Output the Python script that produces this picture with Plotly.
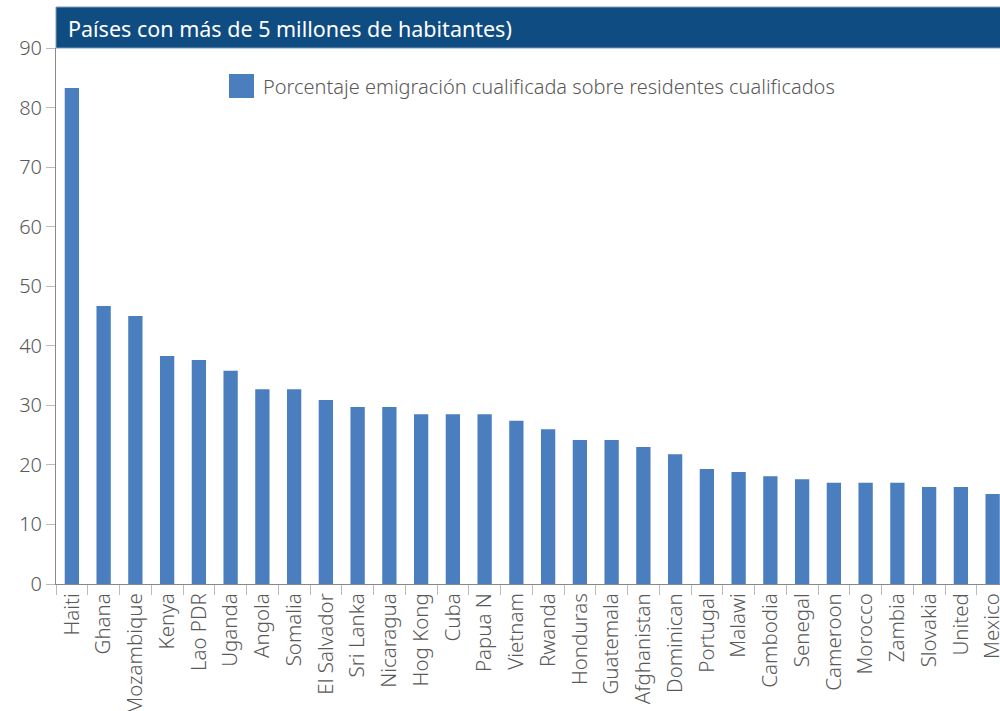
import plotly.graph_objects as go

countries = ["Haiti", "Ghana", "Mozambique", "Kenya", "Lao PDR", "Uganda", "Angola", "Somalia",
             "El Salvador", "Sri Lanka", "Nicaragua", "Hog Kong", "Cuba", "Papua N", "Vietnam",
             "Rwanda", "Honduras", "Guatemala", "Afghanistan", "Dominican", "Portugal", "Malawi",
             "Cambodia", "Senegal", "Cameroon", "Morocco", "Zambia", "Slovakia", "United", "Mexico"]
values = [83.3, 46.7, 45.0, 38.3, 37.6, 35.8, 32.7, 32.7, 30.9, 29.7, 29.7, 28.5, 28.5, 28.5, 27.4,
          26.0, 24.2, 24.2, 23.0, 21.8, 19.3, 18.8, 18.1, 17.6, 17.0, 17.0, 17.0, 16.3, 16.3, 15.1]
y_ticks = [0, 10, 20, 30, 40, 50, 60, 70, 80, 90]
series_name = "Porcentaje emigración cualificada sobre residentes cualificados"
subtitle = "Países con más de 5 millones de habitantes)"

FONT = "Noto Sans"
GRAY = "#595959"
BAR = "#4A7EBF"
W, H = 1000, 711
ML, MR, MT, MB = 56, 0, 48, 127
PW = W - ML - MR
PH = H - MT - MB

fig = go.Figure()
fig.add_trace(go.Bar(
    x=countries, y=values, name=series_name,
    marker=dict(color=BAR, line=dict(width=0)),
    width=0.45, showlegend=False,
))

def py(px):
    return 1 + (MT - px) / PH

def pxx(px):
    return (px - ML) / PW

fig.update_layout(
    width=W, height=H,
    margin=dict(l=ML, r=MR, t=MT, b=MB, autoexpand=False),
    paper_bgcolor="white", plot_bgcolor="white",
    font=dict(family=FONT, color=GRAY),
    showlegend=False,
    xaxis=dict(
        range=[-0.5, -0.5 + PW / 31.75], tickangle=-90, automargin=False,
        tickfont=dict(size=20.5, color=GRAY, weight=300),
        showline=True, linecolor="#888888", linewidth=1,
        ticks="outside", ticklen=10, tickcolor="#BBBBBB", tickson="boundaries",
        showgrid=False, zeroline=False,
    ),
    yaxis=dict(
        range=[0, 90], tickvals=y_ticks, automargin=False,
        tickfont=dict(size=20, color=GRAY, weight=300),
        showline=True, linecolor="#888888", linewidth=1,
        ticks="outside", ticklen=9, tickcolor="#BBBBBB",
        showgrid=False, zeroline=False,
    ),
    shapes=[
        dict(type="rect", xref="paper", yref="paper",
             x0=0, x1=1.01, y0=py(48), y1=py(7),
             fillcolor="#0F4C81", line=dict(width=1, color="#7F9DBD"), layer="above"),
        dict(type="rect", xref="paper", yref="paper",
             x0=pxx(229), x1=pxx(254), y0=py(98), y1=py(74),
             fillcolor=BAR, line=dict(width=0)),
    ],
    annotations=[
        dict(text=subtitle, xref="paper", yref="paper",
             x=pxx(66), y=py(28), xanchor="left", yanchor="middle",
             showarrow=False, font=dict(size=21.5, color="white", family=FONT)),
        dict(text=series_name, xref="paper", yref="paper",
             x=pxx(261), y=py(87), xanchor="left", yanchor="middle",
             showarrow=False, font=dict(size=20, color=GRAY, family=FONT, weight=300)),
    ],
)

fig.write_html("out.html", config={"displayModeBar": False},
               post_script="document.body.style.margin='0';document.body.style.padding='0';document.body.style.overflow='hidden';")
